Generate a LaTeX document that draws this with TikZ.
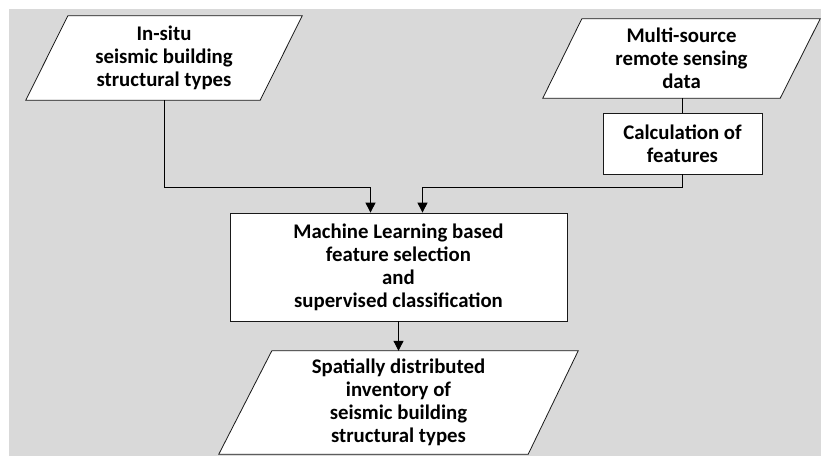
\documentclass[tikz,border=0pt]{standalone}
\usepackage{fontspec}
\setmainfont{Carlito}
\usetikzlibrary{arrows.meta,backgrounds}
\definecolor{bggray}{RGB}{217,217,217}

\begin{document}
\begin{tikzpicture}[x=1pt,y=-1pt,
  label text/.style={align=center,inner sep=0pt,
    font=\bfseries\fontsize{20.8}{23}\selectfont},
  box/.style={label text,draw=black!90,fill=white,line width=0.8pt},
  io/.style={label text},
  outline/.style={draw=black!90,fill=white,line width=0.8pt},
  link/.style={line width=1pt},
  flow/.style={link,-{Triangle[width=10pt,length=10pt]}}]
  \useasboundingbox (0,0) rectangle (821,456);
  % inputs
  \node[io,minimum width=276pt,minimum height=84pt] (insitu) at (164,58)
    {In-situ\\seismic building\\structural types};
  \node[io,minimum width=277pt,minimum height=79pt] (msrs) at (681.5,58.5)
    {Multi-source\\remote sensing\\data};
  \node[box,minimum width=159pt,minimum height=61pt] (calc) at (682.5,143.5)
    {Calculation of\\features};
  % processing and result
  \node[box,minimum width=337pt,minimum height=108pt] (ml) at (398.5,267)
    {Machine Learning based\\feature selection\\and\\supervised classification};
  \node[io,minimum width=359pt,minimum height=103pt] (out) at (398.5,402.5)
    {Spatially distributed\\inventory of\\seismic building\\structural types};
  \begin{scope}[on background layer]
    \fill[bggray] (9,9) rectangle (821,456);
    \path[outline] (insitu.south west) -- ([xshift=42pt]insitu.north west)
      -- (insitu.north east) -- ([xshift=-42pt]insitu.south east) -- cycle;
    \path[outline] (msrs.south west) -- ([xshift=39pt]msrs.north west)
      -- (msrs.north east) -- ([xshift=-40pt]msrs.south east) -- cycle;
    \path[outline] (out.south west) -- ([xshift=53pt]out.north west)
      -- (out.north east) -- ([xshift=-50pt]out.south east) -- cycle;
  \end{scope}
  \coordinate (join) at (0,187);
  \coordinate (inL) at ([xshift=-28pt]ml.north);
  \coordinate (inR) at ([xshift=24pt]ml.north);
  \draw[link] (calc.north) -- (calc.north |- msrs.south);
  \draw[flow] (insitu.south) |- (join -| inL) -- (inL);
  \draw[flow] (calc.south) |- (join -| inR) -- (inR);
  \draw[flow] (ml.south) -- (out.north);
\end{tikzpicture}
\end{document}
